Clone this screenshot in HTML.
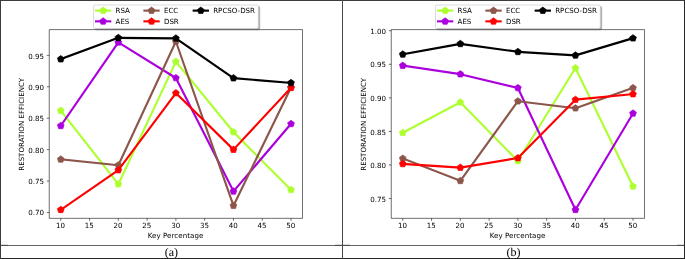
<!DOCTYPE html>
<html><head><meta charset="utf-8"><title>Restoration efficiency</title>
<style>
html,body{margin:0;padding:0;background:#fff}
body{width:685px;height:259px;position:relative;overflow:hidden;font-family:"Liberation Serif","DejaVu Serif",serif}
svg{position:absolute;left:0;top:0}
.ln{position:absolute;background:#3c3c3c}
</style></head><body>
<svg width="685" height="259" viewBox="0 0 685 259">
<defs><clipPath id="clip"><rect x="57.6" y="41.472" width="357.120" height="266.112"/></clipPath></defs>
<g transform="translate(8.41 0.2) scale(0.709201 0.709201)"><path d="M73.833 307.584v3.5M114.415 307.584v3.5M154.996 307.584v3.5M195.578 307.584v3.5M236.16 307.584v3.5M276.742 307.584v3.5M317.324 307.584v3.5M357.905 307.584v3.5M398.487 307.584v3.5M57.6 299.298h-3.5M57.6 254.991h-3.5M57.6 210.683h-3.5M57.6 166.375h-3.5M57.6 122.068h-3.5M57.6 77.76h-3.5" fill="none" stroke="#000" stroke-width="0.8"/><g font-family="'DejaVu Sans','Liberation Sans',sans-serif" font-size="10" fill="#000"><g text-anchor="middle"><text x="73.483" y="321.782">10</text><text x="114.065" y="321.782">15</text><text x="154.646" y="321.782">20</text><text x="195.228" y="321.782">25</text><text x="235.81" y="321.782">30</text><text x="276.392" y="321.782">35</text><text x="316.974" y="321.782">40</text><text x="357.555" y="321.782">45</text><text x="398.137" y="321.782">50</text><text x="235.66" y="335.861" letter-spacing="0.075">Key Percentage</text><text x="21.955" y="175.028" transform="rotate(-90 21.955 175.028)">RESTORATION EFFICIENCY</text></g><g text-anchor="end"><text x="50.2" y="303.097">0.70</text><text x="50.2" y="258.79">0.75</text><text x="50.2" y="215.182">0.80</text><text x="50.2" y="170.174">0.85</text><text x="50.2" y="126.967">0.90</text><text x="50.2" y="82.959">0.95</text></g></g><g clip-path="url(#clip)" stroke-linejoin="round"><path d="M73.833 155.742L154.996 259.422L236.16 86.622L317.324 185.871L398.487 267.397" fill="none" stroke="#ADFF2F" stroke-width="3" stroke-linecap="square"/><g fill="#ADFF2F" stroke="#ADFF2F" stroke-linejoin="miter"><path d="M0 -5L-4.755 -1.545L-2.939 4.045L2.939 4.045L4.755 -1.545Z" transform="translate(73.833 155.742)"/><path d="M0 -5L-4.755 -1.545L-2.939 4.045L2.939 4.045L4.755 -1.545Z" transform="translate(154.996 259.422)"/><path d="M0 -5L-4.755 -1.545L-2.939 4.045L2.939 4.045L4.755 -1.545Z" transform="translate(236.16 86.622)"/><path d="M0 -5L-4.755 -1.545L-2.939 4.045L2.939 4.045L4.755 -1.545Z" transform="translate(317.324 185.871)"/><path d="M0 -5L-4.755 -1.545L-2.939 4.045L2.939 4.045L4.755 -1.545Z" transform="translate(398.487 267.397)"/></g><path d="M73.833 177.186L154.996 59.505L236.16 109.662L317.324 269.524L398.487 174.351" fill="none" stroke="#AB00DD" stroke-width="3" stroke-linecap="square"/><g fill="#AB00DD" stroke="#AB00DD" stroke-linejoin="miter"><path d="M0 -5L-4.755 -1.545L-2.939 4.045L2.939 4.045L4.755 -1.545Z" transform="translate(73.833 177.186)"/><path d="M0 -5L-4.755 -1.545L-2.939 4.045L2.939 4.045L4.755 -1.545Z" transform="translate(154.996 59.505)"/><path d="M0 -5L-4.755 -1.545L-2.939 4.045L2.939 4.045L4.755 -1.545Z" transform="translate(236.16 109.662)"/><path d="M0 -5L-4.755 -1.545L-2.939 4.045L2.939 4.045L4.755 -1.545Z" transform="translate(317.324 269.524)"/><path d="M0 -5L-4.755 -1.545L-2.939 4.045L2.939 4.045L4.755 -1.545Z" transform="translate(398.487 174.351)"/></g><path d="M73.833 224.418L154.996 232.66L236.16 58.265L317.324 289.728L398.487 122.954" fill="none" stroke="#8c564b" stroke-width="3" stroke-linecap="square"/><g fill="#8c564b" stroke="#8c564b" stroke-linejoin="miter"><path d="M0 -5L-4.755 -1.545L-2.939 4.045L2.939 4.045L4.755 -1.545Z" transform="translate(73.833 224.418)"/><path d="M0 -5L-4.755 -1.545L-2.939 4.045L2.939 4.045L4.755 -1.545Z" transform="translate(154.996 232.66)"/><path d="M0 -5L-4.755 -1.545L-2.939 4.045L2.939 4.045L4.755 -1.545Z" transform="translate(236.16 58.265)"/><path d="M0 -5L-4.755 -1.545L-2.939 4.045L2.939 4.045L4.755 -1.545Z" transform="translate(317.324 289.728)"/><path d="M0 -5L-4.755 -1.545L-2.939 4.045L2.939 4.045L4.755 -1.545Z" transform="translate(398.487 122.954)"/></g><path d="M73.833 295.488L154.996 239.483L236.16 130.929L317.324 210.683L398.487 123.486" fill="none" stroke="#ff0000" stroke-width="3" stroke-linecap="square"/><g fill="#ff0000" stroke="#ff0000" stroke-linejoin="miter"><path d="M0 -5L-4.755 -1.545L-2.939 4.045L2.939 4.045L4.755 -1.545Z" transform="translate(73.833 295.488)"/><path d="M0 -5L-4.755 -1.545L-2.939 4.045L2.939 4.045L4.755 -1.545Z" transform="translate(154.996 239.483)"/><path d="M0 -5L-4.755 -1.545L-2.939 4.045L2.939 4.045L4.755 -1.545Z" transform="translate(236.16 130.929)"/><path d="M0 -5L-4.755 -1.545L-2.939 4.045L2.939 4.045L4.755 -1.545Z" transform="translate(317.324 210.683)"/><path d="M0 -5L-4.755 -1.545L-2.939 4.045L2.939 4.045L4.755 -1.545Z" transform="translate(398.487 123.486)"/></g><path d="M73.833 83.077L154.996 53.036L236.16 53.745L317.324 109.927L398.487 116.574" fill="none" stroke="#000000" stroke-width="3" stroke-linecap="square"/><g fill="#000000" stroke="#000000" stroke-linejoin="miter"><path d="M0 -5L-4.755 -1.545L-2.939 4.045L2.939 4.045L4.755 -1.545Z" transform="translate(73.833 83.077)"/><path d="M0 -5L-4.755 -1.545L-2.939 4.045L2.939 4.045L4.755 -1.545Z" transform="translate(154.996 53.036)"/><path d="M0 -5L-4.755 -1.545L-2.939 4.045L2.939 4.045L4.755 -1.545Z" transform="translate(236.16 53.745)"/><path d="M0 -5L-4.755 -1.545L-2.939 4.045L2.939 4.045L4.755 -1.545Z" transform="translate(317.324 109.927)"/><path d="M0 -5L-4.755 -1.545L-2.939 4.045L2.939 4.045L4.755 -1.545Z" transform="translate(398.487 116.574)"/></g></g><path d="M57.6 41.472H414.72V307.584H57.6Z" fill="none" stroke="#000" stroke-width="0.8" stroke-linejoin="miter"/><path d="M123.969 41.811H352.351Q354.351 41.811 354.351 39.811V10.755Q354.351 8.755 352.351 8.755H123.969Q121.969 8.755 121.969 10.755V39.811Q121.969 41.811 123.969 41.811Z" fill="#4d4d4d" stroke="#4d4d4d" opacity="0.5"/><path d="M121.969 39.811H350.351Q352.351 39.811 352.351 37.811V8.755Q352.351 6.755 350.351 6.755H121.969Q119.969 6.755 119.969 8.755V37.811Q119.969 39.811 121.969 39.811Z" fill="#fff" stroke="#ccc" stroke-linejoin="miter"/><g font-family="'DejaVu Sans','Liberation Sans',sans-serif" font-size="10" fill="#000"><path d="M123.569 14.704h20" fill="none" stroke="#ADFF2F" stroke-width="3" stroke-linecap="square"/><path d="M0 -5L-4.755 -1.545L-2.939 4.045L2.939 4.045L4.755 -1.545Z" transform="translate(133.569 14.704)" fill="#ADFF2F" stroke="#ADFF2F" stroke-linejoin="miter"/><text x="151.069" y="18.254">RSA</text><path d="M123.569 29.832h20" fill="none" stroke="#AB00DD" stroke-width="3" stroke-linecap="square"/><path d="M0 -5L-4.755 -1.545L-2.939 4.045L2.939 4.045L4.755 -1.545Z" transform="translate(133.569 29.832)" fill="#AB00DD" stroke="#AB00DD" stroke-linejoin="miter"/><text x="151.069" y="33.382">AES</text><path d="M191.794 14.704h20" fill="none" stroke="#8c564b" stroke-width="3" stroke-linecap="square"/><path d="M0 -5L-4.755 -1.545L-2.939 4.045L2.939 4.045L4.755 -1.545Z" transform="translate(201.794 14.704)" fill="#8c564b" stroke="#8c564b" stroke-linejoin="miter"/><text x="219.294" y="18.254">ECC</text><path d="M191.794 29.832h20" fill="none" stroke="#ff0000" stroke-width="3" stroke-linecap="square"/><path d="M0 -5L-4.755 -1.545L-2.939 4.045L2.939 4.045L4.755 -1.545Z" transform="translate(201.794 29.832)" fill="#ff0000" stroke="#ff0000" stroke-linejoin="miter"/><text x="219.294" y="33.382">DSR</text><path d="M261.29 14.704h20" fill="none" stroke="#000000" stroke-width="3" stroke-linecap="square"/><path d="M0 -5L-4.755 -1.545L-2.939 4.045L2.939 4.045L4.755 -1.545Z" transform="translate(271.29 14.704)" fill="#000000" stroke="#000000" stroke-linejoin="miter"/><text x="288.79" y="18.254">RPCSO-DSR</text></g></g>
<g transform="translate(350.41 0.2) scale(0.709201 0.709201)"><path d="M73.833 307.584v3.5M114.415 307.584v3.5M154.996 307.584v3.5M195.578 307.584v3.5M236.16 307.584v3.5M276.742 307.584v3.5M317.324 307.584v3.5M357.905 307.584v3.5M398.487 307.584v3.5M57.6 279.682h-3.5M57.6 232.358h-3.5M57.6 185.034h-3.5M57.6 137.71h-3.5M57.6 90.386h-3.5M57.6 43.062h-3.5" fill="none" stroke="#000" stroke-width="0.8"/><g font-family="'DejaVu Sans','Liberation Sans',sans-serif" font-size="10" fill="#000"><g text-anchor="middle"><text x="73.483" y="321.782">10</text><text x="114.065" y="321.782">15</text><text x="154.646" y="321.782">20</text><text x="195.228" y="321.782">25</text><text x="235.81" y="321.782">30</text><text x="276.392" y="321.782">35</text><text x="316.974" y="321.782">40</text><text x="357.555" y="321.782">45</text><text x="398.137" y="321.782">50</text><text x="235.66" y="335.861" letter-spacing="0.075">Key Percentage</text><text x="21.955" y="175.028" transform="rotate(-90 21.955 175.028)">RESTORATION EFFICIENCY</text></g><g text-anchor="end"><text x="50.2" y="284.881">0.75</text><text x="50.2" y="236.657">0.80</text><text x="50.2" y="189.533">0.85</text><text x="50.2" y="141.509">0.90</text><text x="50.2" y="94.585">0.95</text><text x="50.2" y="48.261">1.00</text></g></g><g clip-path="url(#clip)" stroke-linejoin="round"><path d="M73.833 186.927L154.996 143.862L236.16 226.679L317.324 95.686L398.487 262.361" fill="none" stroke="#ADFF2F" stroke-width="3" stroke-linecap="square"/><g fill="#ADFF2F" stroke="#ADFF2F" stroke-linejoin="miter"><path d="M0 -5L-4.755 -1.545L-2.939 4.045L2.939 4.045L4.755 -1.545Z" transform="translate(73.833 186.927)"/><path d="M0 -5L-4.755 -1.545L-2.939 4.045L2.939 4.045L4.755 -1.545Z" transform="translate(154.996 143.862)"/><path d="M0 -5L-4.755 -1.545L-2.939 4.045L2.939 4.045L4.755 -1.545Z" transform="translate(236.16 226.679)"/><path d="M0 -5L-4.755 -1.545L-2.939 4.045L2.939 4.045L4.755 -1.545Z" transform="translate(317.324 95.686)"/><path d="M0 -5L-4.755 -1.545L-2.939 4.045L2.939 4.045L4.755 -1.545Z" transform="translate(398.487 262.361)"/></g><path d="M73.833 92.279L154.996 104.299L236.16 123.702L317.324 295.488L398.487 159.574" fill="none" stroke="#AB00DD" stroke-width="3" stroke-linecap="square"/><g fill="#AB00DD" stroke="#AB00DD" stroke-linejoin="miter"><path d="M0 -5L-4.755 -1.545L-2.939 4.045L2.939 4.045L4.755 -1.545Z" transform="translate(73.833 92.279)"/><path d="M0 -5L-4.755 -1.545L-2.939 4.045L2.939 4.045L4.755 -1.545Z" transform="translate(154.996 104.299)"/><path d="M0 -5L-4.755 -1.545L-2.939 4.045L2.939 4.045L4.755 -1.545Z" transform="translate(236.16 123.702)"/><path d="M0 -5L-4.755 -1.545L-2.939 4.045L2.939 4.045L4.755 -1.545Z" transform="translate(317.324 295.488)"/><path d="M0 -5L-4.755 -1.545L-2.939 4.045L2.939 4.045L4.755 -1.545Z" transform="translate(398.487 159.574)"/></g><path d="M73.833 223.177L154.996 254.695L236.16 142.442L317.324 152.286L398.487 123.702" fill="none" stroke="#8c564b" stroke-width="3" stroke-linecap="square"/><g fill="#8c564b" stroke="#8c564b" stroke-linejoin="miter"><path d="M0 -5L-4.755 -1.545L-2.939 4.045L2.939 4.045L4.755 -1.545Z" transform="translate(73.833 223.177)"/><path d="M0 -5L-4.755 -1.545L-2.939 4.045L2.939 4.045L4.755 -1.545Z" transform="translate(154.996 254.695)"/><path d="M0 -5L-4.755 -1.545L-2.939 4.045L2.939 4.045L4.755 -1.545Z" transform="translate(236.16 142.442)"/><path d="M0 -5L-4.755 -1.545L-2.939 4.045L2.939 4.045L4.755 -1.545Z" transform="translate(317.324 152.286)"/><path d="M0 -5L-4.755 -1.545L-2.939 4.045L2.939 4.045L4.755 -1.545Z" transform="translate(398.487 123.702)"/></g><path d="M73.833 230.843L154.996 236.049L236.16 222.514L317.324 140.265L398.487 132.315" fill="none" stroke="#ff0000" stroke-width="3" stroke-linecap="square"/><g fill="#ff0000" stroke="#ff0000" stroke-linejoin="miter"><path d="M0 -5L-4.755 -1.545L-2.939 4.045L2.939 4.045L4.755 -1.545Z" transform="translate(73.833 230.843)"/><path d="M0 -5L-4.755 -1.545L-2.939 4.045L2.939 4.045L4.755 -1.545Z" transform="translate(154.996 236.049)"/><path d="M0 -5L-4.755 -1.545L-2.939 4.045L2.939 4.045L4.755 -1.545Z" transform="translate(236.16 222.514)"/><path d="M0 -5L-4.755 -1.545L-2.939 4.045L2.939 4.045L4.755 -1.545Z" transform="translate(317.324 140.265)"/><path d="M0 -5L-4.755 -1.545L-2.939 4.045L2.939 4.045L4.755 -1.545Z" transform="translate(398.487 132.315)"/></g><path d="M73.833 76.378L154.996 61.518L236.16 72.782L317.324 77.798L398.487 53.568" fill="none" stroke="#000000" stroke-width="3" stroke-linecap="square"/><g fill="#000000" stroke="#000000" stroke-linejoin="miter"><path d="M0 -5L-4.755 -1.545L-2.939 4.045L2.939 4.045L4.755 -1.545Z" transform="translate(73.833 76.378)"/><path d="M0 -5L-4.755 -1.545L-2.939 4.045L2.939 4.045L4.755 -1.545Z" transform="translate(154.996 61.518)"/><path d="M0 -5L-4.755 -1.545L-2.939 4.045L2.939 4.045L4.755 -1.545Z" transform="translate(236.16 72.782)"/><path d="M0 -5L-4.755 -1.545L-2.939 4.045L2.939 4.045L4.755 -1.545Z" transform="translate(317.324 77.798)"/><path d="M0 -5L-4.755 -1.545L-2.939 4.045L2.939 4.045L4.755 -1.545Z" transform="translate(398.487 53.568)"/></g></g><path d="M57.6 41.472H414.72V307.584H57.6Z" fill="none" stroke="#000" stroke-width="0.8" stroke-linejoin="miter"/><path d="M123.969 41.811H352.351Q354.351 41.811 354.351 39.811V10.755Q354.351 8.755 352.351 8.755H123.969Q121.969 8.755 121.969 10.755V39.811Q121.969 41.811 123.969 41.811Z" fill="#4d4d4d" stroke="#4d4d4d" opacity="0.5"/><path d="M121.969 39.811H350.351Q352.351 39.811 352.351 37.811V8.755Q352.351 6.755 350.351 6.755H121.969Q119.969 6.755 119.969 8.755V37.811Q119.969 39.811 121.969 39.811Z" fill="#fff" stroke="#ccc" stroke-linejoin="miter"/><g font-family="'DejaVu Sans','Liberation Sans',sans-serif" font-size="10" fill="#000"><path d="M123.569 14.704h20" fill="none" stroke="#ADFF2F" stroke-width="3" stroke-linecap="square"/><path d="M0 -5L-4.755 -1.545L-2.939 4.045L2.939 4.045L4.755 -1.545Z" transform="translate(133.569 14.704)" fill="#ADFF2F" stroke="#ADFF2F" stroke-linejoin="miter"/><text x="151.069" y="18.254">RSA</text><path d="M123.569 29.832h20" fill="none" stroke="#AB00DD" stroke-width="3" stroke-linecap="square"/><path d="M0 -5L-4.755 -1.545L-2.939 4.045L2.939 4.045L4.755 -1.545Z" transform="translate(133.569 29.832)" fill="#AB00DD" stroke="#AB00DD" stroke-linejoin="miter"/><text x="151.069" y="33.382">AES</text><path d="M191.794 14.704h20" fill="none" stroke="#8c564b" stroke-width="3" stroke-linecap="square"/><path d="M0 -5L-4.755 -1.545L-2.939 4.045L2.939 4.045L4.755 -1.545Z" transform="translate(201.794 14.704)" fill="#8c564b" stroke="#8c564b" stroke-linejoin="miter"/><text x="219.294" y="18.254">ECC</text><path d="M191.794 29.832h20" fill="none" stroke="#ff0000" stroke-width="3" stroke-linecap="square"/><path d="M0 -5L-4.755 -1.545L-2.939 4.045L2.939 4.045L4.755 -1.545Z" transform="translate(201.794 29.832)" fill="#ff0000" stroke="#ff0000" stroke-linejoin="miter"/><text x="219.294" y="33.382">DSR</text><path d="M261.29 14.704h20" fill="none" stroke="#000000" stroke-width="3" stroke-linecap="square"/><path d="M0 -5L-4.755 -1.545L-2.939 4.045L2.939 4.045L4.755 -1.545Z" transform="translate(271.29 14.704)" fill="#000000" stroke="#000000" stroke-linejoin="miter"/><text x="288.79" y="18.254">RPCSO-DSR</text></g></g>
<g font-family="'Liberation Serif','DejaVu Serif',serif" font-size="12" fill="#000" text-anchor="middle" text-rendering="geometricPrecision"><text x="171.45" y="256.2">(a)</text><text x="513.45" y="256.2">(b)</text></g>
</svg>
<div class="ln" style="left:0;top:0;width:685px;height:1px"></div>
<div class="ln" style="left:0;top:245px;width:685px;height:1px;background:#646464"></div>
<div class="ln" style="left:1px;top:244px;width:7px;height:1px;background:#dcdcdc"></div><div class="ln" style="left:1px;top:245px;width:7px;height:1px;background:#505050"></div>
<div class="ln" style="left:335px;top:244px;width:15px;height:1px;background:#dcdcdc"></div><div class="ln" style="left:335px;top:245px;width:15px;height:1px;background:#505050"></div>
<div class="ln" style="left:677px;top:244px;width:7px;height:1px;background:#dcdcdc"></div><div class="ln" style="left:677px;top:245px;width:7px;height:1px;background:#505050"></div>
<div class="ln" style="left:0;top:258px;width:685px;height:1px;background:#262626"></div>
<div class="ln" style="left:0;top:0;width:1px;height:259px"></div>
<div class="ln" style="left:342px;top:0;width:1px;height:259px;background:#464646"></div>
<div class="ln" style="left:684px;top:0;width:1px;height:259px;background:#262626"></div>
</body></html>
